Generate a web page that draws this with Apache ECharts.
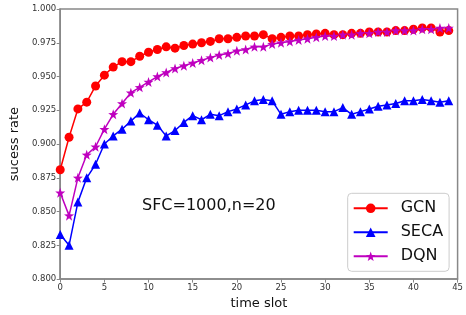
<!DOCTYPE html>
<html>
<head>
<meta charset="utf-8">
<script src="https://cdn.jsdelivr.net/npm/echarts@6/dist/echarts.min.js"></script>
<style>html,body{margin:0;padding:0;background:#fff}#c{width:466px;height:315px}</style>
</head>
<body>
<div id="c"></div>
<script>
var timeSlots = [];
for (var i = 0; i <= 44; i++) timeSlots.push(i);
var gcn = [0.881,0.905,0.926,0.931,0.943,0.951,0.957,0.961,0.961,0.965,0.968,0.970,0.972,0.971,0.973,0.974,
  0.975,0.976,0.978,0.978,0.979,0.980,0.980,0.981,0.978,0.979,0.980,0.980,0.981,0.9815,
  0.982,0.981,0.981,0.982,0.982,0.983,0.983,0.983,0.984,0.984,0.985,0.986,0.986,0.983,0.984];
var seca = [0.833,0.825,0.857,0.875,0.885,0.900,0.906,0.911,0.917,0.923,0.918,0.914,0.906,0.910,0.916,0.921,
  0.918,0.922,0.921,0.924,0.926,0.929,0.932,0.933,0.932,0.922,0.924,0.925,0.925,0.925,
  0.924,0.924,0.927,0.922,0.924,0.926,0.928,0.929,0.930,0.932,0.932,0.933,0.932,0.931,0.932];
var dqn = [0.864,0.847,0.875,0.892,0.898,0.911,0.922,0.930,0.938,0.942,0.946,0.950,0.953,0.956,0.958,0.960,
  0.962,0.964,0.966,0.967,0.969,0.970,0.972,0.972,0.974,0.975,0.976,0.977,0.978,0.979,
  0.980,0.980,0.981,0.981,0.982,0.982,0.983,0.983,0.984,0.984,0.984,0.985,0.985,0.986,0.986];
var xTicks = [0,5,10,15,20,25,30,35,40,45];
var yTicks = [0.800,0.825,0.850,0.875,0.900,0.925,0.950,0.975,1.000];
var annotation = 'SFC=1000,n=20';

function pairs(arr){ return arr.map(function(v,i){ return [timeSlots[i], v]; }); }
var FONT = '"DejaVu Sans", sans-serif';
var chart = echarts.init(document.getElementById('c'), null, {renderer:'canvas'});
function mk(name, data, color, symbol, size){
  return {name:name, type:'line', data:pairs(data), symbol:symbol, symbolSize:size,
    lineStyle:{color:color, width:1.5}, itemStyle:{color:color}, color:color, animation:false, z: 3};
}
chart.setOption({
  animation:false,
  grid:{left:49.7, right:8.3, top:9, bottom:35, show:true, borderColor:'#888', borderWidth:1.5},
  xAxis:{type:'value', min:0, max:45, interval:5,
    name:'time slot', nameLocation:'middle', nameGap:16,
    nameTextStyle:{fontFamily:FONT, fontSize:13, color:'#111'},
    axisLine:{show:true, lineStyle:{color:'#888', width:1.5}},
    axisTick:{show:true, length:3.5, lineStyle:{color:'#888'}},
    axisLabel:{fontFamily:FONT, fontSize:8.5, color:'#333', margin:4},
    splitLine:{show:false}},
  yAxis:{type:'value', min:0.8, max:1.0, interval:0.025,
    name:'sucess rate', nameLocation:'middle', nameGap:36,
    nameTextStyle:{fontFamily:FONT, fontSize:13, color:'#111'},
    axisLine:{show:true, lineStyle:{color:'#888', width:1.5}},
    axisTick:{show:true, length:3.5, lineStyle:{color:'#888'}},
    axisLabel:{fontFamily:FONT, fontSize:8.5, color:'#333', margin:4,
      formatter:function(v){ return v.toFixed(3); }},
    splitLine:{show:false}},
  legend:{orient:'vertical', left:347.7, top:193.3, itemWidth:34, itemHeight:12, itemGap:8,
    padding:[7,6,7,5], borderColor:'#ccc', borderWidth:1, borderRadius:4,
    backgroundColor:'rgba(255,255,255,0.8)',
    textStyle:{fontFamily:FONT, fontSize:16, color:'#111', lineHeight:16, padding:[0,0,0,8]},
    data:['GCN','SECA','DQN']},
  graphic:[{type:'text', left:142, top:198, style:{text:annotation, font:'16px "DejaVu Sans", sans-serif', fill:'#111'}}],
  series:[
    mk('GCN', gcn, '#ff0000', 'circle', 9),
    mk('SECA', seca, '#0000ff', 'triangle', 9),
    mk('DQN', dqn, '#bf00bf', 'path://M0,-10 L2.35,-3.24 L9.51,-3.09 L3.8,1.24 L5.88,8.09 L0,4 L-5.88,8.09 L-3.8,1.24 L-9.51,-3.09 L-2.35,-3.24 Z', 10)
  ]
});
</script>
</body>
</html>
